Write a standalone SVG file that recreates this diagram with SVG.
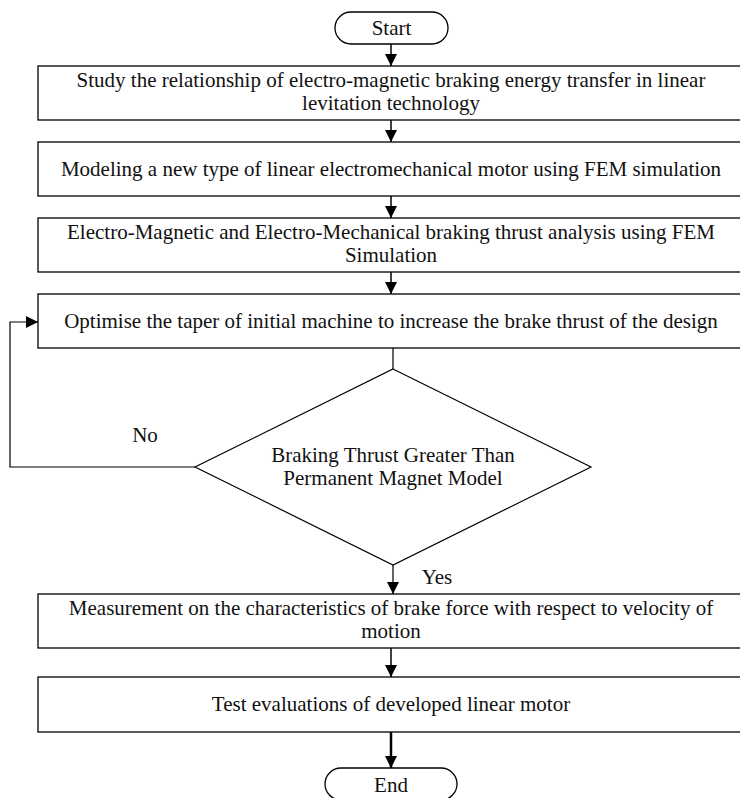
<svg xmlns="http://www.w3.org/2000/svg" width="740" height="798" viewBox="0 0 740 798">
<style>
  .box { fill: #fff; stroke: #000; stroke-width: 1.3; }
  .t { font-family: "Liberation Serif", "Times New Roman", serif; font-size: 21px; fill: #111; text-anchor: middle; }
  .c { fill: none; stroke: #000; stroke-width: 1.5; }
</style>
<defs>
  <marker id="ah" viewBox="0 0 12 12" refX="12" refY="6" markerWidth="12" markerHeight="12" markerUnits="userSpaceOnUse" orient="auto">
    <path d="M0,0 L12,6 L0,12 Z" fill="#000"/>
  </marker>
</defs>
<rect width="740" height="798" fill="#fff"/>
<g id="connectors">
  <line class="c" x1="391" y1="44" x2="391" y2="66" marker-end="url(#ah)"/>
  <line class="c" x1="391" y1="120" x2="391" y2="142" marker-end="url(#ah)"/>
  <line class="c" x1="391" y1="196" x2="391" y2="218" marker-end="url(#ah)"/>
  <line class="c" x1="391" y1="272" x2="391" y2="294" marker-end="url(#ah)"/>
  <line class="c" x1="393" y1="348" x2="393" y2="369" style="stroke-width:1.2"/>
  <polyline class="c" points="195,467 10,467 10,322 38,322" marker-end="url(#ah)" style="stroke-width:1.2"/>
  <line class="c" x1="393" y1="565" x2="393" y2="594" marker-end="url(#ah)" style="stroke-width:1.2"/>
  <line class="c" x1="391" y1="648" x2="391" y2="677" marker-end="url(#ah)"/>
  <line class="c" x1="391" y1="732" x2="391" y2="768" marker-end="url(#ah)" style="stroke-width:2.5"/>
  <text class="t" x="145" y="442">No</text>
  <text class="t" x="437" y="584">Yes</text>
</g>
<g id="start">
  <rect class="box" x="335" y="12" width="113" height="32" rx="16" ry="16"/>
  <text class="t" x="391.5" y="35">Start</text>
</g>
<g id="step1">
  <rect class="box" x="38" y="66" width="710" height="54"/>
  <text class="t" x="391" y="87">Study the relationship of electro-magnetic braking energy transfer in linear</text>
  <text class="t" x="391" y="110">levitation technology</text>
</g>
<g id="step2">
  <rect class="box" x="38" y="142" width="710" height="54"/>
  <text class="t" x="391" y="176">Modeling a new type of linear electromechanical motor using FEM simulation</text>
</g>
<g id="step3">
  <rect class="box" x="38" y="218" width="710" height="54"/>
  <text class="t" x="391" y="239">Electro-Magnetic and Electro-Mechanical braking thrust analysis using FEM</text>
  <text class="t" x="391" y="262">Simulation</text>
</g>
<g id="step4">
  <rect class="box" x="38" y="294" width="710" height="54"/>
  <text class="t" x="391" y="328">Optimise the taper of initial machine to increase the brake thrust of the design</text>
</g>
<g id="decision">
  <polygon class="box" points="393,369 591,467 393,565 195,467" style="stroke-width:1.2"/>
  <text class="t" x="393" y="462">Braking Thrust Greater Than</text>
  <text class="t" x="393" y="485">Permanent Magnet Model</text>
</g>
<g id="step5">
  <rect class="box" x="38" y="594" width="710" height="54"/>
  <text class="t" x="391" y="615">Measurement on the characteristics of brake force with respect to velocity of</text>
  <text class="t" x="391" y="638">motion</text>
</g>
<g id="step6">
  <rect class="box" x="38" y="677" width="710" height="55"/>
  <text class="t" x="391" y="711">Test evaluations of developed linear motor</text>
</g>
<g id="end">
  <rect class="box" x="325" y="768" width="132" height="32" rx="16" ry="16"/>
  <text class="t" x="391" y="792">End</text>
</g>
</svg>
